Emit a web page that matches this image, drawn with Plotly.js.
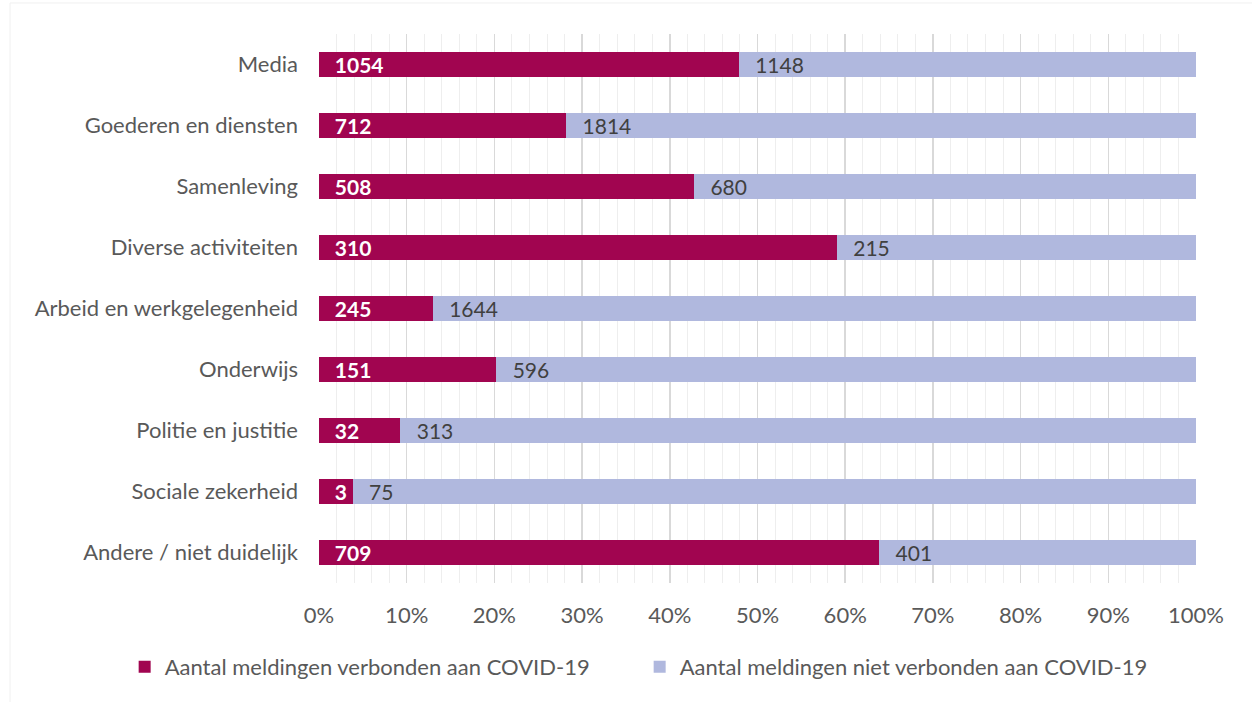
<!DOCTYPE html>
<html><head><meta charset="utf-8">
<script src="https://cdn.plot.ly/plotly-3.0.1.min.js"></script>
<style>html,body{margin:0;padding:0;background:#fff;}#chart{width:1252px;height:702px;}</style>
</head><body><div id="chart"></div>
<script>
const categories = ["Media","Goederen en diensten","Samenleving","Diverse activiteiten","Arbeid en werkgelegenheid","Onderwijs","Politie en justitie","Sociale zekerheid","Andere / niet duidelijk"];
const covidValues = [1054,712,508,310,245,151,32,3,709];
const nonCovidValues = [1148,1814,680,215,1644,596,313,75,401];
const seriesNames = ["Aantal meldingen verbonden aan COVID-19","Aantal meldingen niet verbonden aan COVID-19"];
const tickValues = [0,10,20,30,40,50,60,70,80,90,100];

const FONT = "Lato, 'Open Sans', sans-serif";
const pad = "\u00a0\u00a0\u2009";
const traces = [
  {type:'bar', orientation:'h', name:seriesNames[0], y:categories, x:covidValues,
   text:covidValues.map(v=>pad+v), textposition:'inside', insidetextanchor:'start', constraintext:'none',
   textfont:{family:FONT, size:21, color:'#ffffff', weight:'bold'},
   marker:{color:'#A10550'}, hoverinfo:'skip'},
  {type:'bar', orientation:'h', name:seriesNames[1], y:categories, x:nonCovidValues,
   text:nonCovidValues.map(v=>pad+v), textposition:'inside', insidetextanchor:'start', constraintext:'none',
   textfont:{family:FONT, size:21, color:'#404040'},
   marker:{color:'#B0B8DE'}, hoverinfo:'skip'}
];
const layout = {
  width:1252, height:702,
  barmode:'stack', barnorm:'percent', bargap:0.6,
  margin:{l:319, r:56, t:34, b:119},
  paper_bgcolor:'#fff', plot_bgcolor:'#fff',
  font:{family:FONT, size:22, color:'#595959'},
  xaxis:{range:[0,100], tickvals:tickValues, ticktext:tickValues.map(v=>v+'%'),
    showgrid:true, gridcolor:'#d9d9d9', gridwidth:1.5, zeroline:false, showline:false,
    ticks:'', ticklabelstandoff:17,
    minor:{dtick:2, showgrid:true, gridcolor:'#eeeeee', gridwidth:1},
    tickfont:{family:FONT, size:22, color:'#595959'}, fixedrange:true},
  yaxis:{type:'category', autorange:'reversed', showgrid:false, zeroline:false, showline:false,
    ticks:'', ticklabelstandoff:20, tickfont:{family:FONT, size:22, color:'#595959'}},
  showlegend:true,
  legend:{orientation:'h', xref:'paper', yref:'paper', x:-0.2216, y:-0.153, xanchor:'left', yanchor:'middle',
    entrywidth:470, entrywidthmode:'pixels', font:{family:FONT, size:22, color:'#595959'}, traceorder:'normal'},
  shapes:[
    {type:'line', xref:'paper', yref:'paper', x0:-0.3523, x1:1.064, y0:1.0565, y1:1.0565, line:{color:'#f0f0f0', width:1}, layer:'below'},
    {type:'line', xref:'paper', yref:'paper', x0:-0.3523, x1:-0.3523, y0:-0.2168, y1:1.0565, line:{color:'#f0f0f0', width:1}, layer:'below'}
  ]
};
Plotly.newPlot('chart', traces, layout, {staticPlot:true, displayModeBar:false});
</script></body></html>
